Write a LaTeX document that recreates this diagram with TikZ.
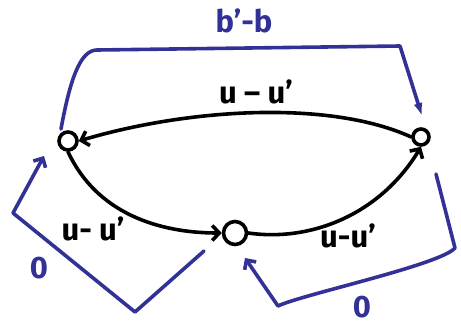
\documentclass[tikz,border=0pt]{standalone}
\usepackage{fontspec}
\setmainfont{Fira Sans}
\usetikzlibrary{arrows.meta}
\definecolor{pen}{RGB}{50,50,150}
\tikzset{
  vtx/.style={circle,draw=black,line width=3.6pt,fill=white,inner sep=0pt},
  blk/.style={draw=black,line width=3.6pt,line cap=round,-{Straight Barb[length=7pt,width=15pt,line width=3.6pt]}},
  blu/.style={draw=pen,line width=3.6pt,line cap=round,line join=round},
  bluT/.style={blu,-{Latex[length=13pt,width=9pt]}},
  bluB/.style={blu,-{Straight Barb[length=7pt,width=14pt,line width=3.6pt]}},
  lbl/.style={font=\fontsize{31}{34}\selectfont\bfseries,inner sep=1pt},
  blbl/.style={lbl,text=pen}
}
\begin{document}
\begin{tikzpicture}[x=1pt,y=-1pt]
\useasboundingbox (0,0) rectangle (461,327);
% vertices
\node[vtx,minimum size=18pt] (L) at (68,141) {};
\node[vtx,minimum size=16pt] (R) at (421,137) {};
\node[vtx,minimum size=23pt] (M) at (235,233) {};
% black edges
\draw[blk] (R.west) .. controls (330,100) and (190,108) .. (L.east);
\draw[blk] (L.south) .. controls (100,220) and (170,233) .. (M.west);
\draw[blk] (M.east) .. controls (310,242) and (380,215) .. (R.south);
% black labels
\node[lbl] (t1) at (256,92) {u – u'};
\node[lbl] (t2) at (93,229) {u- u'};
\node[lbl] (t3) at (348,236) {u-u'};
% blue paths
\coordinate (a0) at (61,129);
\coordinate (a1) at (97,50);
\coordinate (a2) at (400,46);
\coordinate (a3) at (422,116);
\draw[bluT] (a0) .. controls (70,80) and (80,50) .. (a1) -- (a2) -- (a3);
\node[blbl] (bb) at (244,21) {b'-b};
\coordinate (b0) at (204,251);
\coordinate (b1) at (135,312);
\coordinate (b2) at (13,213);
\coordinate (b3) at (44,156);
\draw[bluB] (b0) -- (b1) -- (b2) -- (b3);
\node[blbl] (z1) at (39,268) {0};
\coordinate (c0) at (436,174);
\coordinate (c1) at (455,248);
\coordinate (c2) at (278,306);
\coordinate (c3) at (245,258);
\draw[bluB] (c0) -- (c1) .. controls (440,265) and (300,295) .. (c2) -- (c3);
\node[blbl] (z2) at (362,307) {0};
\end{tikzpicture}
\end{document}
